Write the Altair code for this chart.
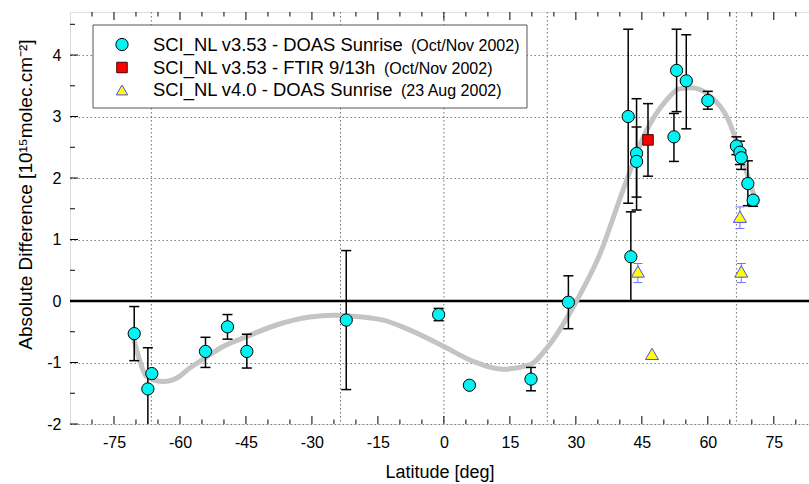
import altair as alt
import pandas as pd

# ---------------- data ----------------
# SCI_NL v3.53 - DOAS Sunrise (Oct/Nov 2002)
doas_lat = [-70.4, -66.4, -67.3, -54.2, -49.2, -44.8, -22.2, -1.2, 5.8, 19.8, 28.3,
            41.9, 42.5, 43.8, 43.8, 52.3, 52.9, 55.1, 60.0, 66.5, 67.3, 67.6, 69.1, 70.3]
doas_val = [-0.53, -1.18, -1.43, -0.82, -0.42, -0.82, -0.31, -0.22, -1.37, -1.27, -0.02,
            3.00, 0.72, 2.40, 2.27, 2.67, 3.75, 3.58, 3.26, 2.52, 2.42, 2.33, 1.91, 1.64]
doas_lo = [-0.97, None, -2.10, -1.08, -0.62, -1.09, -1.44, -0.32, None, -1.46, -0.45,
           1.59, 0.00, 1.69, 1.48, 2.27, 3.08, 2.80, 3.12, 2.38, 2.22, 2.14, 1.55, 1.54]
doas_hi = [-0.09, None, -0.76, -0.59, -0.22, -0.54, 0.82, -0.12, None, -1.08, 0.41,
           4.42, 1.45, 3.29, 2.83, 3.05, 4.42, 4.33, 3.41, 2.67, 2.60, 2.45, 2.28, 1.70]

# SCI_NL v3.53 - FTIR 9/13h (Oct/Nov 2002)
ftir_lat = [46.4]
ftir_val = [2.62]
ftir_lo = [2.03]
ftir_hi = [3.21]

# SCI_NL v4.0 - DOAS Sunrise (23 Aug 2002)
v40_lat = [44.1, 47.3, 67.3, 67.6]
v40_val = [0.48, -0.86, 1.37, 0.48]
v40_lo = [0.30, None, 1.18, 0.30]
v40_hi = [0.61, None, 1.53, 0.61]

# smooth grey fit curve
fit_lat = [-70.5, -69.1, -67.7, -63.8, -60.4, -57.8, -54.8, -50.2, -44.9, -38.1, -30.5,
           -25.0, -22.3, -13.8, -7.8, 0.0, 6.6, 13.4, 19.5, 24.0, 30.3, 35.4, 40.7,
           45.9, 50.5, 53.5, 56.3, 60.9, 64.7, 67.0, 69.2, 70.8]
fit_val = [-0.62, -0.98, -1.22, -1.31, -1.24, -1.09, -0.95, -0.74, -0.58, -0.39, -0.26,
           -0.23, -0.24, -0.31, -0.47, -0.74, -0.98, -1.11, -1.04, -0.71, 0.02, 0.75, 1.80,
           2.75, 3.26, 3.45, 3.47, 3.31, 2.94, 2.50, 2.01, 1.65]

# axis ticks / labels / reference latitudes
x_labels = [-75, -60, -45, -30, -15, 0, 15, 30, 45, 60, 75]
x_minor = [-80, -70, -65, -55, -50, -40, -35, -25, -20, -10, -5,
           5, 10, 20, 25, 35, 40, 50, 55, 65, 70, 80]
y_labels = [-2, -1, 0, 1, 2, 3, 4]
y_minor = [-1.5, -0.5, 0.5, 1.5, 2.5, 3.5, 4.5]
geo_lines = [-66.5, -23.5, 0.0, 23.5, 66.5]

legend_main = ["SCI_NL v3.53 - DOAS Sunrise", "SCI_NL v3.53 - FTIR 9/13h", "SCI_NL v4.0 - DOAS Sunrise"]
legend_note = ["(Oct/Nov 2002)", "(Oct/Nov 2002)", "(23 Aug 2002)"]

# ---------------- layout ----------------
W, H = 739, 412
PADL, PADT = 70, 12
FONT = "Liberation Sans"
XDOM = [-85, 83]
YDOM = [-2, 4.7]

xs = alt.Scale(domain=XDOM, nice=False, zero=False)
ys = alt.Scale(domain=YDOM, nice=False, zero=False)

doas = pd.DataFrame({"lat": doas_lat, "val": doas_val, "lo": doas_lo, "hi": doas_hi})
ftir = pd.DataFrame({"lat": ftir_lat, "val": ftir_val, "lo": ftir_lo, "hi": ftir_hi})
v40 = pd.DataFrame({"lat": v40_lat, "val": v40_val, "lo": v40_lo, "hi": v40_hi})
fit = pd.DataFrame({"lat": fit_lat, "val": fit_val})

hyphen = "datum.value < 0 ? '-' + format(-datum.value, 'd') : format(datum.value, 'd')"

base_x = alt.X("lat:Q", scale=xs, axis=alt.Axis(
    values=x_labels, ticks=False, tickSize=0, domain=False, grid=False,
    labelExpr=hyphen, labelFontSize=16, labelFont=FONT, labelColor="black",
    labelPadding=10, title="Latitude [deg]", titleFontSize=18, titleFont=FONT,
    titleFontWeight="normal", titleColor="black", titleY=48, titleBaseline="middle"))
base_y = alt.Y("val:Q", scale=ys, axis=alt.Axis(
    values=y_labels, ticks=False, tickSize=0, domain=False, grid=True,
    gridDash=[1.5, 2.5], gridColor="#808080", gridWidth=1,
    labelExpr=hyphen, labelFontSize=16, labelFont=FONT, labelColor="black",
    labelPadding=9, title="Absolute Difference [10¹⁵molec.cm⁻²]", titleFontSize=19,
    titleFont=FONT, titleFontWeight="normal", titleColor="black",
    titleX=-45, titleY=182, titleBaseline="middle", titleAngle=-90))

curve = alt.Chart(fit).mark_line(color="#c4c4c4", strokeWidth=5, interpolate="monotone",
                                 clip=True).encode(x=base_x, y=base_y)

geo = alt.Chart(pd.DataFrame({"lat": geo_lines})).mark_rule(
    color="#707070", strokeDash=[1.5, 2.5], strokeWidth=1).encode(
    x=alt.X("lat:Q", scale=xs))

zero = alt.Chart(pd.DataFrame({"val": [0.0]})).mark_rule(
    color="black", strokeWidth=2.5).encode(y=alt.Y("val:Q", scale=ys))


def errbars(df, color, width, cap):
    d = df.dropna()
    bar = alt.Chart(d).mark_rule(color=color, strokeWidth=width, clip=True).encode(
        x=alt.X("lat:Q", scale=xs), y=alt.Y("lo:Q", scale=ys), y2="hi:Q")
    c1 = alt.Chart(d).mark_tick(color=color, orient="horizontal", size=cap,
                                thickness=width, clip=True, opacity=1).encode(
        x=alt.X("lat:Q", scale=xs), y=alt.Y("lo:Q", scale=ys))
    c2 = alt.Chart(d).mark_tick(color=color, orient="horizontal", size=cap,
                                thickness=width, clip=True, opacity=1).encode(
        x=alt.X("lat:Q", scale=xs), y=alt.Y("hi:Q", scale=ys))
    return [bar, c1, c2]


CYAN_STYLE = dict(shape="circle", filled=True, fill="#00f4f4", stroke="black",
                  strokeWidth=1, size=150, opacity=1)
RED_STYLE = dict(shape="square", filled=True, fill="#ff0000", stroke="#400000",
                 strokeWidth=1, size=110, opacity=1)
TRI_STYLE = dict(shape="triangle-up", filled=True, fill="#ffff00", stroke="#4a4aff",
                 strokeWidth=1, size=170, opacity=1)

doas_pts = alt.Chart(doas).mark_point(**CYAN_STYLE).encode(
    x=alt.X("lat:Q", scale=xs), y=alt.Y("val:Q", scale=ys))
ftir_pts = alt.Chart(ftir).mark_point(**RED_STYLE).encode(
    x=alt.X("lat:Q", scale=xs), y=alt.Y("val:Q", scale=ys))
v40_pts = alt.Chart(v40).mark_point(**TRI_STYLE).encode(
    x=alt.X("lat:Q", scale=xs), y=alt.Y("val:Q", scale=ys))

# inward ticks on frame (bottom, top, left)
def xticks(vals, length):
    d = pd.DataFrame({"lat": vals})
    bot = alt.Chart(d).mark_rule(color="black", strokeWidth=1).encode(
        x=alt.X("lat:Q", scale=xs), y=alt.value(H), y2=alt.value(H - length))
    top = alt.Chart(d).mark_rule(color="black", strokeWidth=1).encode(
        x=alt.X("lat:Q", scale=xs), y=alt.value(0), y2=alt.value(length))
    return [bot, top]


def yticks(vals, length):
    d = pd.DataFrame({"val": vals})
    return [alt.Chart(d).mark_rule(color="black", strokeWidth=1).encode(
        y=alt.Y("val:Q", scale=ys), x=alt.value(0), x2=alt.value(length))]


ticks = xticks(x_labels, 8) + xticks(x_minor, 4.5) + yticks(y_labels, 8) + yticks(y_minor, 5)

# legend box (drawn manually to keep the two font sizes)
one = pd.DataFrame({"a": [0]})
leg_box = alt.Chart(one).mark_rect(fill="white", stroke="#555555", strokeWidth=1).encode(
    x=alt.value(23), x2=alt.value(457), y=alt.value(13), y2=alt.value(96))
row_y = [32.5, 55.5, 78]
note_x = [341, 314, 331]
styles = [CYAN_STYLE, RED_STYLE, TRI_STYLE]
leg_layers = [leg_box]
for i in range(3):
    st = dict(styles[i])
    if i == 2:
        st["size"] = 130
    leg_layers.append(alt.Chart(one).mark_point(**st).encode(
        x=alt.value(52), y=alt.value(row_y[i])))
    leg_layers.append(alt.Chart(one).mark_text(
        text=legend_main[i], font=FONT, fontSize=18.4, align="left", baseline="middle",
        color="black").encode(x=alt.value(83), y=alt.value(row_y[i])))
    leg_layers.append(alt.Chart(one).mark_text(
        text=legend_note[i], font=FONT, fontSize=16, align="left", baseline="middle",
        color="black").encode(x=alt.value(note_x[i]), y=alt.value(row_y[i] + 1)))

layers = ([geo, zero, curve]
          + errbars(doas, "black", 1.5, 10)
          + errbars(ftir, "black", 1.5, 10)
          + errbars(v40, "#7070ff", 1, 9)
          + [doas_pts, ftir_pts, v40_pts]
          + ticks + leg_layers)

chart = alt.layer(*layers).properties(
    width=W, height=H,
    autosize=alt.AutoSizeParams(type="none"),
    padding={"left": PADL, "top": PADT, "right": 0, "bottom": 60},
    background="white",
).configure_view(stroke="black", strokeWidth=1.2).configure(font=FONT)

chart.save("out.html", embed_options={"renderer": "svg", "actions": False})
